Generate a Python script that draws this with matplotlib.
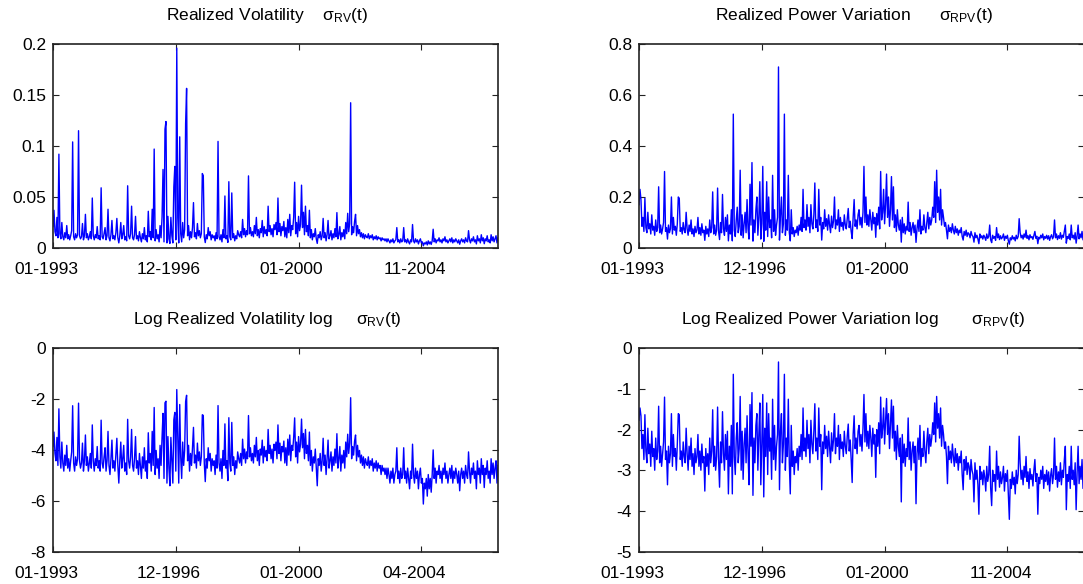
import numpy as np
import matplotlib
matplotlib.use("Agg")
import matplotlib.pyplot as plt
from matplotlib.transforms import ScaledTranslation

# ---------------- data ----------------
day_step = 8  # trading days between stored observations
tick_days = [0, 1000, 2000, 3000]
tick_labels_a = ["01-1993", "12-1996", "01-2000", "11-2004"]
tick_labels_c = ["01-1993", "12-1996", "01-2000", "04-2004"]

rv = [
    0.021, 0.037, 0.016, 0.012, 0.030, 0.010, 0.092, 0.014, 0.009, 0.025,
    0.011, 0.008, 0.015, 0.010, 0.022, 0.009, 0.013, 0.008, 0.012, 0.017,
    0.104, 0.011, 0.008, 0.014, 0.010, 0.013, 0.115, 0.012, 0.009, 0.011,
    0.024, 0.008, 0.012, 0.033, 0.010, 0.014, 0.008, 0.011, 0.016, 0.009,
    0.049, 0.012, 0.008, 0.013, 0.010, 0.021, 0.009, 0.012, 0.008, 0.059,
    0.011, 0.009, 0.014, 0.020, 0.008, 0.012, 0.038, 0.010, 0.007, 0.013,
    0.027, 0.009, 0.012, 0.008, 0.015, 0.029, 0.010, 0.005, 0.012, 0.025,
    0.009, 0.013, 0.022, 0.008, 0.011, 0.007, 0.061, 0.012, 0.009, 0.014,
    0.041, 0.010, 0.008, 0.013, 0.031, 0.009, 0.012, 0.007, 0.016, 0.010,
    0.006, 0.014, 0.009, 0.020, 0.008, 0.012, 0.006, 0.036, 0.011, 0.016,
    0.008, 0.038, 0.010, 0.097, 0.007, 0.018, 0.009, 0.013, 0.006, 0.022,
    0.010, 0.030, 0.077, 0.006, 0.1165, 0.124, 0.005, 0.031, 0.009, 0.0045,
    0.030, 0.012, 0.005, 0.060, 0.080, 0.008, 0.196, 0.030, 0.005, 0.109,
    0.014, 0.006, 0.025, 0.010, 0.018, 0.122, 0.1565, 0.012, 0.022, 0.008,
    0.016, 0.010, 0.020, 0.0445, 0.011, 0.015, 0.009, 0.024, 0.012, 0.017,
    0.010, 0.014, 0.073, 0.071, 0.011, 0.0053, 0.013, 0.009, 0.020, 0.012,
    0.016, 0.008, 0.013, 0.010, 0.012, 0.007, 0.015, 0.009, 0.1045, 0.011,
    0.008, 0.013, 0.006, 0.018, 0.010, 0.051, 0.009, 0.012, 0.0055, 0.065,
    0.011, 0.008, 0.054, 0.010, 0.014, 0.007, 0.012, 0.009, 0.017, 0.013,
    0.011, 0.016, 0.010, 0.028, 0.013, 0.019, 0.011, 0.017, 0.013, 0.0707,
    0.014, 0.020, 0.012, 0.016, 0.011, 0.022, 0.014, 0.030, 0.012, 0.018,
    0.010, 0.019, 0.015, 0.027, 0.011, 0.021, 0.014, 0.018, 0.012, 0.041,
    0.016, 0.022, 0.013, 0.019, 0.011, 0.023, 0.018, 0.025, 0.013, 0.049,
    0.016, 0.024, 0.012, 0.021, 0.017, 0.026, 0.011, 0.020, 0.010, 0.028,
    0.015, 0.033, 0.012, 0.022, 0.018, 0.030, 0.0645, 0.014, 0.025, 0.011,
    0.031, 0.017, 0.023, 0.0616, 0.020, 0.035, 0.013, 0.041, 0.016, 0.022,
    0.012, 0.037, 0.010, 0.018, 0.008, 0.014, 0.011, 0.019, 0.009, 0.0045,
    0.013, 0.010, 0.016, 0.008, 0.012, 0.029, 0.010, 0.015, 0.007, 0.013,
    0.027, 0.009, 0.012, 0.017, 0.008, 0.014, 0.010, 0.019, 0.011, 0.0347,
    0.009, 0.013, 0.021, 0.008, 0.015, 0.011, 0.018, 0.009, 0.025, 0.014,
    0.034, 0.016, 0.024, 0.1424, 0.013, 0.021, 0.015, 0.026, 0.033, 0.012,
    0.022, 0.014, 0.018, 0.011, 0.015, 0.010, 0.014, 0.009, 0.013, 0.011,
    0.010, 0.014, 0.009, 0.012, 0.010, 0.013, 0.008, 0.011, 0.009, 0.012,
    0.008, 0.011, 0.009, 0.010, 0.007, 0.010, 0.008, 0.009, 0.007, 0.009,
    0.006, 0.009, 0.007, 0.005, 0.008, 0.006, 0.009, 0.005, 0.007, 0.008,
    0.020, 0.006, 0.008, 0.005, 0.009, 0.006, 0.007, 0.020, 0.006, 0.008,
    0.005, 0.009, 0.006, 0.004, 0.008, 0.006, 0.023, 0.007, 0.005, 0.009,
    0.006, 0.008, 0.004, 0.007, 0.009, 0.005, 0.006, 0.0022, 0.005, 0.004,
    0.006, 0.003, 0.007, 0.004, 0.006, 0.0035, 0.007, 0.0184, 0.006, 0.009,
    0.005, 0.008, 0.007, 0.010, 0.006, 0.008, 0.005, 0.009, 0.007, 0.011,
    0.006, 0.008, 0.005, 0.007, 0.009, 0.006, 0.010, 0.005, 0.008, 0.006,
    0.009, 0.007, 0.005, 0.008, 0.0037, 0.007, 0.009, 0.006, 0.008, 0.005,
    0.010, 0.007, 0.006, 0.017, 0.008, 0.005, 0.009, 0.007, 0.011, 0.006,
    0.008, 0.004, 0.012, 0.007, 0.009, 0.005, 0.013, 0.007, 0.010, 0.0042,
    0.009, 0.007, 0.012, 0.006, 0.008, 0.005, 0.013, 0.007, 0.011, 0.006,
    0.009, 0.012, 0.005, 0.010,
]

rpv = [
    0.170, 0.230, 0.190, 0.085, 0.120, 0.065, 0.195, 0.080, 0.060, 0.140,
    0.075, 0.095, 0.055, 0.130, 0.070, 0.085, 0.050, 0.110, 0.065, 0.080,
    0.240, 0.060, 0.090, 0.055, 0.075, 0.100, 0.300, 0.065, 0.080, 0.035,
    0.090, 0.060, 0.075, 0.200, 0.055, 0.120, 0.070, 0.085, 0.050, 0.095,
    0.200, 0.195, 0.065, 0.080, 0.055, 0.100, 0.070, 0.060, 0.140, 0.075,
    0.050, 0.090, 0.065, 0.110, 0.055, 0.075, 0.045, 0.085, 0.060, 0.070,
    0.120, 0.055, 0.080, 0.050, 0.095, 0.060, 0.070, 0.030, 0.085, 0.055,
    0.075, 0.045, 0.110, 0.060, 0.080, 0.220, 0.055, 0.090, 0.050, 0.070,
    0.235, 0.065, 0.033, 0.100, 0.060, 0.210, 0.075, 0.050, 0.120, 0.065,
    0.130, 0.028, 0.090, 0.055, 0.150, 0.028, 0.525, 0.070, 0.045, 0.110,
    0.160, 0.060, 0.085, 0.305, 0.050, 0.130, 0.040, 0.095, 0.140, 0.060,
    0.190, 0.075, 0.035, 0.250, 0.090, 0.335, 0.027, 0.110, 0.060, 0.150,
    0.200, 0.050, 0.120, 0.260, 0.035, 0.095, 0.320, 0.026, 0.140, 0.070,
    0.260, 0.045, 0.200, 0.080, 0.110, 0.040, 0.285, 0.065, 0.150, 0.050,
    0.090, 0.120, 0.710, 0.031, 0.130, 0.200, 0.060, 0.095, 0.525, 0.050,
    0.110, 0.070, 0.285, 0.060, 0.028, 0.150, 0.055, 0.080, 0.045, 0.070,
    0.060, 0.085, 0.050, 0.090, 0.070, 0.120, 0.065, 0.230, 0.080, 0.110,
    0.070, 0.170, 0.085, 0.120, 0.060, 0.170, 0.095, 0.075, 0.130, 0.255,
    0.080, 0.110, 0.065, 0.230, 0.090, 0.120, 0.031, 0.100, 0.075, 0.150,
    0.085, 0.115, 0.070, 0.130, 0.090, 0.060, 0.125, 0.080, 0.105, 0.200,
    0.075, 0.110, 0.090, 0.150, 0.065, 0.120, 0.085, 0.100, 0.070, 0.130,
    0.090, 0.075, 0.115, 0.155, 0.080, 0.105, 0.065, 0.037, 0.120, 0.190,
    0.085, 0.110, 0.075, 0.130, 0.150, 0.090, 0.120, 0.080, 0.140, 0.320,
    0.100, 0.200, 0.090, 0.130, 0.085, 0.150, 0.110, 0.070, 0.140, 0.095,
    0.120, 0.042, 0.135, 0.090, 0.160, 0.075, 0.300, 0.110, 0.140, 0.230,
    0.095, 0.170, 0.290, 0.120, 0.200, 0.085, 0.150, 0.280, 0.110, 0.240,
    0.080, 0.130, 0.065, 0.150, 0.090, 0.070, 0.110, 0.023, 0.120, 0.060,
    0.095, 0.055, 0.085, 0.070, 0.180, 0.065, 0.100, 0.050, 0.080, 0.100,
    0.060, 0.090, 0.022, 0.075, 0.110, 0.065, 0.150, 0.055, 0.085, 0.070,
    0.130, 0.080, 0.060, 0.100, 0.140, 0.075, 0.120, 0.090, 0.110, 0.160,
    0.120, 0.260, 0.100, 0.305, 0.140, 0.200, 0.110, 0.230, 0.090, 0.150,
    0.120, 0.085, 0.100, 0.070, 0.036, 0.090, 0.065, 0.080, 0.060, 0.095,
    0.070, 0.055, 0.085, 0.060, 0.075, 0.050, 0.070, 0.060, 0.080, 0.045,
    0.031, 0.065, 0.050, 0.070, 0.045, 0.060, 0.055, 0.040, 0.065, 0.050,
    0.045, 0.023, 0.060, 0.040, 0.050, 0.035, 0.017, 0.055, 0.040, 0.048,
    0.035, 0.050, 0.042, 0.030, 0.055, 0.038, 0.045, 0.090, 0.032, 0.021,
    0.050, 0.038, 0.045, 0.030, 0.080, 0.040, 0.055, 0.033, 0.048, 0.036,
    0.042, 0.055, 0.030, 0.046, 0.038, 0.050, 0.028, 0.015, 0.040, 0.032,
    0.048, 0.035, 0.042, 0.028, 0.050, 0.036, 0.045, 0.115, 0.060, 0.040,
    0.050, 0.035, 0.055, 0.042, 0.070, 0.038, 0.048, 0.032, 0.052, 0.040,
    0.045, 0.034, 0.050, 0.065, 0.038, 0.046, 0.017, 0.042, 0.036, 0.050,
    0.040, 0.055, 0.032, 0.045, 0.038, 0.050, 0.035, 0.048, 0.030, 0.044,
    0.052, 0.036, 0.045, 0.110, 0.040, 0.055, 0.033, 0.048, 0.038, 0.060,
    0.035, 0.050, 0.042, 0.065, 0.090, 0.019, 0.045, 0.038, 0.055, 0.032,
    0.090, 0.040, 0.050, 0.035, 0.060, 0.019, 0.048, 0.090, 0.036, 0.055,
    0.040, 0.065, 0.032, 0.050,
]
assert len(rv) == 454 and len(rpv) == 454

titles = [
    "Realized Volatility    σ$_{\\mathrm{RV}}$(t)",
    "Realized Power Variation      σ$_{\\mathrm{RPV}}$(t)",
    "Log Realized Volatility log     σ$_{\\mathrm{RV}}$(t)",
    "Log Realized Power Variation log       σ$_{\\mathrm{RPV}}$(t)",
]
yticks = [
    [0, 0.05, 0.1, 0.15, 0.2],
    [0, 0.2, 0.4, 0.6, 0.8],
    [-8, -6, -4, -2, 0],
    [-5, -4, -3, -2, -1, 0],
]
ylims = [(0, 0.2), (0, 0.8), (-8, 0), (-5, 0)]

# ---------------- style ----------------
plt.rcParams["font.family"] = ["Liberation Sans", "DejaVu Sans"]
plt.rcParams["mathtext.fontset"] = "custom"
plt.rcParams["mathtext.rm"] = "Liberation Sans"
plt.rcParams["mathtext.it"] = "Liberation Sans"
plt.rcParams["mathtext.bf"] = "Liberation Sans:bold"

W, H = 1083, 584
fig = plt.figure(figsize=(W / 100, H / 100), dpi=100)

def px_axes(x0, y0, w, h):
    return fig.add_axes([x0 / W, 1 - (y0 + h) / H, w / W, h / H])

positions = [(53, 44), (639, 44), (53, 348), (639, 348)]
axes = [px_axes(x, y, 445, 204) for x, y in positions]

series = [np.array(rv), np.array(rpv), np.log(np.array(rv)), np.log(np.array(rpv))]
xlabels = [tick_labels_a, tick_labels_a, tick_labels_c, tick_labels_a]
days = np.arange(len(rv)) * day_step

for i, ax in enumerate(axes):
    ax.plot(days, series[i], color="#0000ff", lw=1.0)
    ax.set_xlim(0, days[-1])
    ax.set_ylim(*ylims[i])
    ax.set_xticks(tick_days)
    ax.set_xticklabels(xlabels[i])
    ax.set_yticks(yticks[i])
    ax.set_yticklabels(["%g" % v for v in yticks[i]])
    ax.tick_params(direction="in", length=4, width=0.8, top=True, right=True,
                   labelsize=12.5, colors="#222222", labelcolor="black")
    ax.tick_params(axis="x", pad=10)
    ax.tick_params(axis="y", pad=5)
    for s in ax.spines.values():
        s.set_linewidth(1.2)
        s.set_color("#222222")
    off = ScaledTranslation(-7 / 100, 0, fig.dpi_scale_trans)
    for lab in ax.get_xticklabels():
        lab.set_transform(lab.get_transform() + off)
    t = ax.set_title(titles[i], fontsize=12.5, pad=17)
    t.set_transform(t.get_transform() + ScaledTranslation(-8 / 100, 0, fig.dpi_scale_trans))

fig.savefig("out.png", dpi=100)
